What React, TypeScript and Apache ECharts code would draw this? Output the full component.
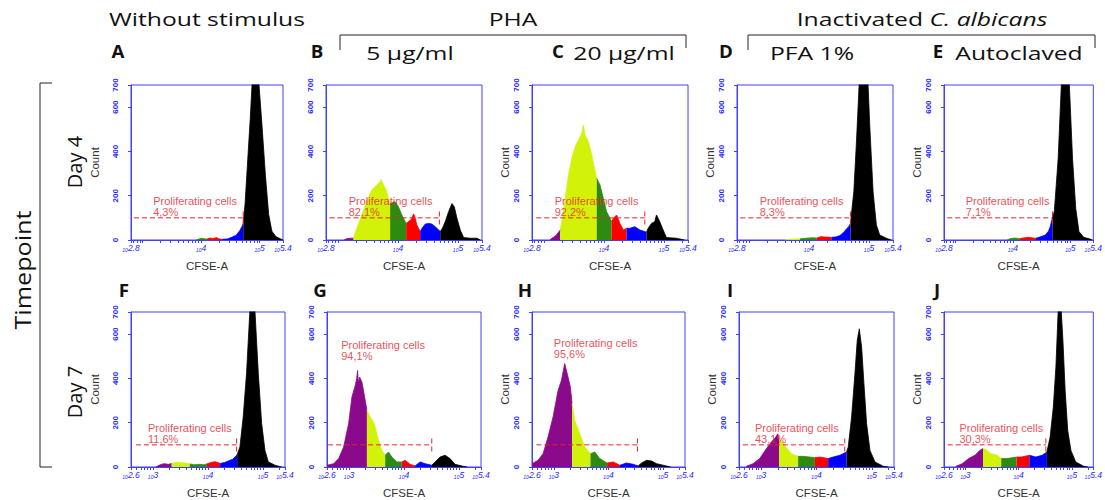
import React, { useEffect, useRef } from 'react';
import * as echarts from 'echarts';

type Pt = [number, number];

// Generation colours (from least to most divided -> right to left on CFSE axis)
const GEN_COLORS = ['#8b0a8b', '#d2f20a', '#2e8b12', '#ff0000', '#0000ff', '#000000'];
const AXIS_BLUE = '#4040ff';
const LABEL_BLUE = '#2828ff';
const RED = '#e8202c';

// x values are log10(CFSE-A), y values are counts. Order: purple, yellow, green, red, blue, black
const histA: Pt[][] = [
  [],
  [],
  [[3.92, 0], [3.96, 4], [4.0, 8], [4.05, 6], [4.1, 4]],
  [[4.1, 4], [4.15, 9], [4.2, 6], [4.26, 11], [4.31, 5], [4.36, 3]],
  [[4.36, 3], [4.45, 5], [4.52, 12], [4.6, 22], [4.66, 42], [4.7, 62], [4.72, 75]],
  [[4.72, 75], [4.75, 160], [4.78, 290], [4.81, 420], [4.84, 550], [4.87, 700], [4.93, 850], [4.99, 700], [5.04, 520], [5.1, 290], [5.155, 115], [5.21, 40], [5.28, 15], [5.35, 6], [5.4, 0]],
];
const histB: Pt[][] = [
  [[3.1, 0], [3.145, 6], [3.2, 8], [3.257, 8]],
  [[3.257, 8], [3.312, 53], [3.396, 113], [3.479, 173], [3.563, 226], [3.646, 248], [3.7, 262], [3.719, 272], [3.758, 248], [3.802, 226], [3.841, 188], [3.869, 165]],
  [[3.869, 165], [3.953, 173], [4.008, 150], [4.064, 113], [4.136, 75]],
  [[4.136, 75], [4.2, 88], [4.231, 98], [4.26, 118], [4.287, 100], [4.314, 68], [4.37, 38]],
  [[4.37, 38], [4.4, 53], [4.454, 72], [4.51, 75], [4.565, 72], [4.649, 53], [4.704, 38]],
  [[4.704, 38], [4.74, 53], [4.788, 83], [4.843, 128], [4.899, 165], [4.938, 150], [4.983, 98], [5.038, 45], [5.094, 11], [5.205, 8], [5.317, 8], [5.372, 0]],
];
const histC: Pt[][] = [
  [[3.1, 0], [3.132, 8], [3.2, 20], [3.27, 45]],
  [[3.27, 45], [3.298, 83], [3.353, 188], [3.408, 293], [3.464, 369], [3.519, 421], [3.574, 451], [3.63, 482], [3.657, 519], [3.685, 474], [3.74, 444], [3.796, 384], [3.84, 324], [3.879, 278]],
  [[3.879, 278], [3.934, 248], [3.989, 188], [4.044, 128], [4.1, 98], [4.127, 83]],
  [[4.127, 83], [4.155, 98], [4.21, 113], [4.266, 75], [4.321, 45], [4.376, 53]],
  [[4.376, 53], [4.432, 53], [4.515, 60], [4.598, 45], [4.681, 38], [4.708, 35]],
  [[4.708, 35], [4.736, 53], [4.791, 75], [4.846, 83], [4.874, 113], [4.918, 90], [4.974, 53], [5.04, 11], [5.206, 8], [5.344, 0]],
];
const histD: Pt[][] = [
  [],
  [[3.6, 0], [3.657, 3], [3.75, 4], [3.851, 5]],
  [[3.851, 5], [3.95, 8], [4.05, 10], [4.127, 9]],
  [[4.127, 9], [4.2, 15], [4.28, 13], [4.376, 12]],
  [[4.376, 12], [4.45, 14], [4.515, 20], [4.58, 35], [4.625, 50], [4.66, 60], [4.692, 75]],
  [[4.692, 75], [4.72, 150], [4.747, 218], [4.791, 444], [4.835, 700], [4.91, 880], [4.985, 700], [5.012, 519], [5.068, 218], [5.123, 68], [5.178, 23], [5.289, 8], [5.372, 0]],
];
const histE: Pt[][] = [
  [],
  [],
  [[3.9, 0], [3.95, 6], [4.03, 9], [4.12, 6]],
  [[4.12, 6], [4.2, 10], [4.28, 12], [4.35, 9], [4.4, 8]],
  [[4.4, 8], [4.454, 12], [4.52, 18], [4.565, 23], [4.62, 40], [4.649, 60], [4.688, 100]],
  [[4.688, 100], [4.721, 130], [4.755, 250], [4.788, 369], [4.843, 700], [4.91, 880], [4.983, 700], [5.038, 369], [5.094, 143], [5.15, 38], [5.233, 12], [5.345, 4], [5.38, 0]],
];
const histF: Pt[][] = [
  [[3.05, 0], [3.13, 10], [3.2, 15], [3.28, 12], [3.34, 16]],
  [[3.34, 16], [3.42, 22], [3.5, 20], [3.58, 18], [3.67, 14]],
  [[3.67, 14], [3.75, 10], [3.85, 12], [3.92, 10], [3.98, 14]],
  [[3.98, 14], [4.05, 20], [4.12, 24], [4.18, 20], [4.22, 16]],
  [[4.22, 16], [4.3, 20], [4.38, 28], [4.45, 35], [4.5, 48], [4.53, 55]],
  [[4.53, 55], [4.58, 90], [4.64, 226], [4.7, 421], [4.76, 700], [4.81, 850], [4.855, 700], [4.915, 421], [4.976, 196], [5.036, 75], [5.097, 23], [5.218, 8], [5.34, 0]],
];
const histG: Pt[][] = [
  [[2.6, 8], [2.721, 15], [2.812, 38], [2.902, 90], [2.993, 196], [3.053, 316], [3.114, 369], [3.14, 400], [3.156, 436], [3.17, 380], [3.193, 406], [3.235, 384], [3.295, 301], [3.326, 256]],
  [[3.326, 256], [3.386, 226], [3.459, 196], [3.537, 120], [3.598, 75], [3.658, 53]],
  [[3.658, 53], [3.718, 68], [3.779, 45], [3.87, 23], [3.96, 23]],
  [[3.96, 23], [4.021, 30], [4.111, 12], [4.202, 5]],
  [[4.202, 5], [4.293, 23], [4.384, 15], [4.504, 8]],
  [[4.504, 8], [4.565, 23], [4.656, 45], [4.746, 53], [4.837, 38], [4.928, 12], [5.079, 3], [5.15, 0]],
];
const histH: Pt[][] = [
  [[2.6, 15], [2.71, 30], [2.802, 60], [2.893, 135], [2.985, 226], [3.077, 346], [3.138, 391], [3.199, 467], [3.26, 406], [3.303, 361], [3.333, 286]],
  [[3.333, 286], [3.382, 211], [3.474, 150], [3.566, 90], [3.67, 60]],
  [[3.67, 60], [3.749, 68], [3.841, 38], [3.975, 18]],
  [[3.975, 18], [4.085, 23], [4.208, 8]],
  [[4.208, 8], [4.33, 18], [4.452, 12], [4.544, 5]],
  [[4.544, 5], [4.605, 18], [4.697, 30], [4.788, 27], [4.88, 15], [5.002, 8], [5.137, 0]],
];
const histI: Pt[][] = [
  [[2.733, 3], [2.853, 15], [2.974, 38], [3.095, 83], [3.185, 113], [3.264, 135], [3.3, 150], [3.324, 120]],
  [[3.324, 120], [3.366, 120], [3.445, 90], [3.547, 60], [3.668, 48]],
  [[3.668, 48], [3.759, 48], [3.879, 45], [3.97, 42]],
  [[3.97, 42], [4.06, 45], [4.211, 38]],
  [[4.211, 38], [4.302, 45], [4.423, 53], [4.543, 68]],
  [[4.543, 68], [4.573, 90], [4.634, 226], [4.694, 421], [4.736, 572], [4.773, 624], [4.815, 542], [4.857, 376], [4.905, 196], [4.966, 75], [5.056, 23], [5.207, 3], [5.3, 0]],
];
const histJ: Pt[][] = [
  [[2.822, 3], [2.942, 15], [3.062, 38], [3.182, 53], [3.271, 75], [3.331, 83]],
  [[3.331, 83], [3.391, 78], [3.481, 60], [3.601, 53], [3.673, 38]],
  [[3.673, 38], [3.781, 38], [3.961, 45]],
  [[3.961, 45], [4.051, 45], [4.201, 53]],
  [[4.201, 53], [4.321, 45], [4.441, 53], [4.53, 68]],
  [[4.53, 68], [4.59, 135], [4.65, 271], [4.698, 451], [4.74, 700], [4.77, 760], [4.8, 700], [4.83, 572], [4.872, 346], [4.92, 166], [4.98, 75], [5.07, 23], [5.22, 3], [5.3, 0]],
];

const histograms = [histA, histB, histC, histD, histE, histF, histG, histH, histI, histJ];
const panelLetters = ['A', 'B', 'C', 'D', 'E', 'F', 'G', 'H', 'I', 'J'];
const proliferatingPct = ['4,3%', '82,1%', '92,2%', '8,3%', '7,1%', '11,6%', '94,1%', '95,6%', '43,1%', '30,3%'];
const gateLevel = 100;
const gateStart = [2.85, 2.86, 2.87, 2.855, 2.855, 2.69, 2.62, 2.68, 2.67, 2.67];
const gateEnd = [4.72, 4.69, 4.68, 4.69, 4.69, 4.52, 4.505, 4.53, 4.51, 4.51];
const gateTick = [70, 135];
const labelX = [3.17, 3.17, 3.17, 3.17, 3.17, 2.9, 2.85, 2.99, 2.88, 2.88];
const labelY = [152, 152, 152, 152, 152, 152, 524, 537, 152, 152];
// 'axis' = drawn as the y axis name, 'text' = drawn as a free text, '' = none
const countMode = ['axis', '', 'text', 'text', 'text', 'axis', '', 'text', 'text', 'text'];

const xMinByRow = [2.8, 2.6];
const xMax = 5.4;
const xLabelValues = [[2.8, 4, 5, 5.4], [2.6, 3, 4, 5, 5.4]];
const yLabelValues = [0, 200, 400, 600, 700];

// layout (pixels)
const gridRects: [number, number, number, number][] = [
  [131, 85, 152, 155], [326, 85, 156, 155], [532, 85, 156, 155], [737, 85, 156, 155], [944, 85, 156, 155],
  [131, 312, 154, 155], [327, 312, 154, 155], [532, 312, 153, 155], [739, 312, 155, 155], [944, 312, 156, 155],
];
const letterPos: [number, number][] = [
  [118, 51], [317, 51], [558, 51], [726, 51], [938, 51],
  [124, 290], [320, 290], [525, 290], [730, 290], [937, 290],
];
const countOffset = 27;

function logTicks(min: number, max: number): number[] {
  const out: number[] = [min];
  for (let e = 2; e <= 5; e++) {
    for (let k = 1; k <= 9; k++) {
      const v = Math.log10(k * Math.pow(10, e));
      if (v > min + 1e-6 && v < max - 1e-6) out.push(v);
    }
  }
  out.push(max);
  return out;
}

const TITLE_FONT = '"Open Sans", "Noto Sans", sans-serif';

function buildOption(): any {
  const grid: any[] = [];
  const xAxis: any[] = [];
  const yAxis: any[] = [];
  const series: any[] = [];
  const graphic: any[] = [];
  const countTexts: any[] = [];

  const addText = (text: string, x: number, y: number, size: number, opts: any = {}) => {
    graphic.push({
      type: 'text',
      x,
      y,
      scaleX: opts.scaleX ?? 1,
      rotation: opts.rotation ?? 0,
      z: 1,
      style: {
        text,
        fontSize: size,
        fontFamily: TITLE_FONT,
        fontWeight: opts.bold ? 'bold' : 'normal',
        fill: '#111',
        align: 'center',
        verticalAlign: 'middle',
      },
    });
  };

  histograms.forEach((hist, i) => {
    const row = i < 5 ? 0 : 1;
    const [l, t, w, h] = gridRects[i];
    grid.push({ left: l, top: t, width: w, height: h, show: true, borderColor: AXIS_BLUE, borderWidth: 1, backgroundColor: 'transparent' });
    xAxis.push({
      type: 'value',
      gridIndex: i,
      min: xMinByRow[row],
      max: xMax,
      axisLine: { show: true, lineStyle: { color: AXIS_BLUE, width: 1 } },
      axisTick: { show: true, customValues: logTicks(xMinByRow[row], xMax), length: 3, lineStyle: { color: AXIS_BLUE } },
      axisLabel: {
        show: true,
        customValues: xLabelValues[row],
        margin: 3,
        formatter: (v: number) => `{a|10}{b|${+v.toFixed(1)}}`,
        rich: {
          a: { fontSize: 5, color: LABEL_BLUE, fontFamily: 'Liberation Sans', fontStyle: 'italic', padding: [4, 0, 0, 0] },
          b: { fontSize: 8.5, color: LABEL_BLUE, fontFamily: 'Liberation Sans', fontStyle: 'italic' },
        },
      },
      splitLine: { show: false },
      name: 'CFSE-A',
      nameLocation: 'middle',
      nameGap: 20,
      nameTextStyle: { fontSize: 11.5, color: '#333', fontFamily: 'Liberation Sans' },
    });
    yAxis.push({
      type: 'value',
      gridIndex: i,
      min: 0,
      max: 700,
      axisLine: { show: true, lineStyle: { color: AXIS_BLUE, width: 1 } },
      axisTick: { show: true, customValues: yLabelValues, length: 3, lineStyle: { color: AXIS_BLUE } },
      axisLabel: {
        show: true,
        customValues: yLabelValues,
        rotate: 90,
        margin: 12,
        fontSize: 8,
        color: LABEL_BLUE,
        fontFamily: 'Liberation Sans',
        fontWeight: 'bold',
      },
      splitLine: { show: false },
      name: countMode[i] === 'axis' ? 'Count' : '',
      nameLocation: 'middle',
      nameGap: 30,
      nameTextStyle: { fontSize: 11.5, color: '#333', fontFamily: 'Liberation Sans' },
    });

    if (countMode[i] === 'text') {
      countTexts.push({
        type: 'text',
        x: l - countOffset,
        y: t + h / 2,
        rotation: Math.PI / 2,
        z: 10,
        style: {
          text: 'Count',
          fontSize: 11.5,
          fontFamily: 'Liberation Sans',
          fill: '#333',
          align: 'center',
          verticalAlign: 'middle',
        },
      });
    }

    hist.forEach((seg, g) => {
      if (!seg.length) return;
      series.push({
        type: 'line',
        xAxisIndex: i,
        yAxisIndex: i,
        data: seg,
        symbol: 'none',
        silent: true,
        clip: true,
        z: 2,
        lineStyle: { color: GEN_COLORS[g], width: 0.8 },
        areaStyle: { color: GEN_COLORS[g], opacity: 1 },
      });
    });

    series.push({
      type: 'line',
      xAxisIndex: i,
      yAxisIndex: i,
      data: [[gateStart[i], gateLevel], [gateEnd[i], gateLevel]],
      symbol: 'none',
      silent: true,
      z: 5,
      lineStyle: { color: RED, width: 1, type: [5, 3] },
    });
    series.push({
      type: 'line',
      xAxisIndex: i,
      yAxisIndex: i,
      data: [[gateEnd[i], gateTick[0]], [gateEnd[i], gateTick[1]]],
      symbol: 'none',
      silent: true,
      z: 5,
      lineStyle: { color: RED, width: 1, type: [5, 3] },
    });
    series.push({
      type: 'scatter',
      xAxisIndex: i,
      yAxisIndex: i,
      data: [[labelX[i], labelY[i]]],
      symbolSize: 1,
      itemStyle: { color: 'rgba(0,0,0,0)' },
      silent: true,
      z: 6,
      label: {
        show: true,
        position: 'right',
        distance: 0,
        formatter: 'Proliferating cells\n' + proliferatingPct[i],
        color: RED,
        fontSize: 11,
        lineHeight: 11,
        fontFamily: 'Liberation Sans',
        align: 'left',
      },
    });
  });

  addText('Without stimulus', 207, 18, 19, { scaleX: 1.3 });
  addText('PHA', 513, 18, 19, { scaleX: 1.3 });
  graphic.push({
    type: 'text',
    x: 922,
    y: 18,
    scaleX: 1.3,
    style: {
      text: '{n|Inactivated }{i|C. albicans}',
      align: 'center',
      verticalAlign: 'middle',
      fill: '#111',
      rich: {
        n: { fontSize: 19, fontFamily: TITLE_FONT, fill: '#111' },
        i: { fontSize: 19, fontFamily: TITLE_FONT, fontStyle: 'italic', fill: '#111' },
      },
    },
  });
  addText('5 μg/ml', 410, 52, 19, { scaleX: 1.3 });
  addText('20 μg/ml', 624, 52, 19, { scaleX: 1.3 });
  addText('PFA 1%', 812, 52, 19, { scaleX: 1.3 });
  addText('Autoclaved', 1019, 52, 19, { scaleX: 1.3 });
  panelLetters.forEach((L, i) => addText(L, letterPos[i][0], letterPos[i][1], 17, { bold: true, scaleX: 1.1 }));

  addText('Timepoint', 23, 270, 21, { rotation: Math.PI / 2, scaleX: 1.2 });
  addText('Day 4', 74, 162, 20, { rotation: Math.PI / 2 });
  addText('Day 7', 74, 392, 20, { rotation: Math.PI / 2 });

  const bracket = (pts: number[][]) =>
    graphic.push({ type: 'polyline', shape: { points: pts }, style: { stroke: '#222', lineWidth: 1, fill: 'none' } });
  bracket([[340, 50], [340, 35], [686, 35], [686, 48]]);
  bracket([[748, 50], [748, 35], [1095, 35], [1095, 48]]);
  bracket([[52, 83], [40, 83], [40, 467], [52, 467]]);

  return {
    animation: false,
    backgroundColor: '#ffffff',
    textStyle: { fontFamily: 'Liberation Sans' },
    grid,
    xAxis,
    yAxis,
    series,
    graphic: graphic.concat(countTexts),
  };
}

export default function App() {
  const ref = useRef<HTMLDivElement>(null);
  useEffect(() => {
    document.body.style.margin = '0';
    const chart = echarts.init(ref.current as HTMLDivElement, undefined, { renderer: 'svg', width: 1105, height: 500 });
    chart.setOption(buildOption());
    return () => chart.dispose();
  }, []);
  return <div ref={ref} style={{ position: 'absolute', left: 0, top: 0, width: 1105, height: 500 }} />;
}
